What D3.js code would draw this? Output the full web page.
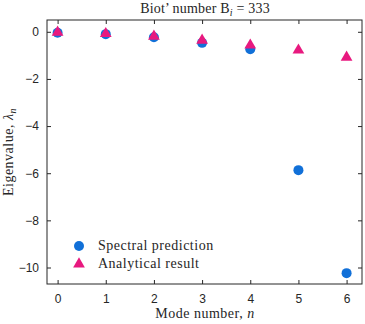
<!DOCTYPE html>
<html>
<head>
<script src="https://d3js.org/d3.v7.min.js"></script>
<style>
  body { margin: 0; background: #fff; }
  .tick text { font-family: "Liberation Sans", Arial, sans-serif; font-size: 12px; fill: #262626; }
  .domain { stroke: none; }
  .tick line { stroke: #262626; }
  .lbl { font-family: "Liberation Serif", "DejaVu Serif", serif; font-size: 14px; fill: #262626; letter-spacing: 0.5px; }
</style>
</head>
<body>
<svg width="365" height="324"></svg>
<script>
var modes = [0, 1, 2, 3, 4, 5, 6];
var spectral = [-0.04, -0.1, -0.23, -0.47, -0.74, -5.87, -10.24];
var analytical = [-0.02, -0.08, -0.19, -0.36, -0.57, -0.78, -1.08];
var xTicks = [0, 1, 2, 3, 4, 5, 6];
var yTicks = [0, -2, -4, -6, -8, -10];

var svg = d3.select("svg");
var pLeft = 47, pRight = 362, pTop = 20, pBottom = 284;
var blue = "#1170d8", pink = "#e8197f";

var x = d3.scaleLinear().domain([-0.22, 6.32]).range([pLeft, pRight]);
var y = d3.scaleLinear().domain([-10.7, 0.5]).range([pBottom, pTop]);

// axes, ticks pointing inward on all four sides
svg.append("g").attr("transform", "translate(0," + pBottom + ")")
  .call(d3.axisBottom(x).tickValues(xTicks).tickSize(-4).tickPadding(10).tickFormat(d3.format("d")));
svg.append("g").attr("transform", "translate(0," + pTop + ")")
  .call(d3.axisTop(x).tickValues(xTicks).tickSize(-4).tickFormat(""));
svg.append("g").attr("transform", "translate(" + pLeft + ",0)")
  .call(d3.axisLeft(y).tickValues(yTicks).tickSize(-4).tickPadding(8).tickFormat(d3.format("d")));
svg.append("g").attr("transform", "translate(" + pRight + ",0)")
  .call(d3.axisRight(y).tickValues(yTicks).tickSize(-4).tickFormat(""));

svg.append("rect").attr("x", pLeft).attr("y", pTop)
  .attr("width", pRight - pLeft).attr("height", pBottom - pTop)
  .attr("fill", "none").attr("stroke", "#262626").attr("stroke-width", 1);

// points
svg.append("g").selectAll("circle").data(modes).enter().append("circle")
  .attr("cx", (d, i) => x(d)).attr("cy", (d, i) => y(spectral[i]))
  .attr("r", 5).attr("fill", blue);

var tri = d3.symbol().type(d3.symbolTriangle).size(60);
svg.append("g").selectAll("path").data(modes).enter().append("path")
  .attr("d", tri)
  .attr("transform", (d, i) => "translate(" + x(d) + "," + y(analytical[i]) + ")")
  .attr("fill", pink);

// labels
var title = svg.append("text").attr("class", "lbl").attr("x", 205).attr("y", 13)
  .attr("text-anchor", "middle").style("letter-spacing", "0.2px");
title.append("tspan").text("Biot’ number B");
title.append("tspan").attr("font-style", "italic").attr("font-size", 10).attr("dy", 3).text("i");
title.append("tspan").attr("dy", -3).text(" = 333");

var xl = svg.append("text").attr("class", "lbl").attr("x", 205).attr("y", 318).attr("text-anchor", "middle");
xl.append("tspan").text("Mode number, ");
xl.append("tspan").attr("font-style", "italic").text("n");

var yl = svg.append("text").attr("class", "lbl")
  .attr("transform", "translate(13," + ((pTop + pBottom) / 2) + ") rotate(-90)")
  .attr("text-anchor", "middle");
yl.append("tspan").text("Eigenvalue, ");
yl.append("tspan").attr("font-style", "italic").text("λ");
yl.append("tspan").attr("font-style", "italic").attr("font-size", 10).attr("dy", 3).text("n");

// legend
var legend = svg.append("g");
legend.append("circle").attr("cx", 79).attr("cy", 246).attr("r", 5).attr("fill", blue);
legend.append("path").attr("d", tri).attr("transform", "translate(79,264)").attr("fill", pink);
legend.append("text").attr("class", "lbl").attr("x", 98).attr("y", 250).text("Spectral prediction");
legend.append("text").attr("class", "lbl").attr("x", 98).attr("y", 268).text("Analytical result");
</script>
</body>
</html>
